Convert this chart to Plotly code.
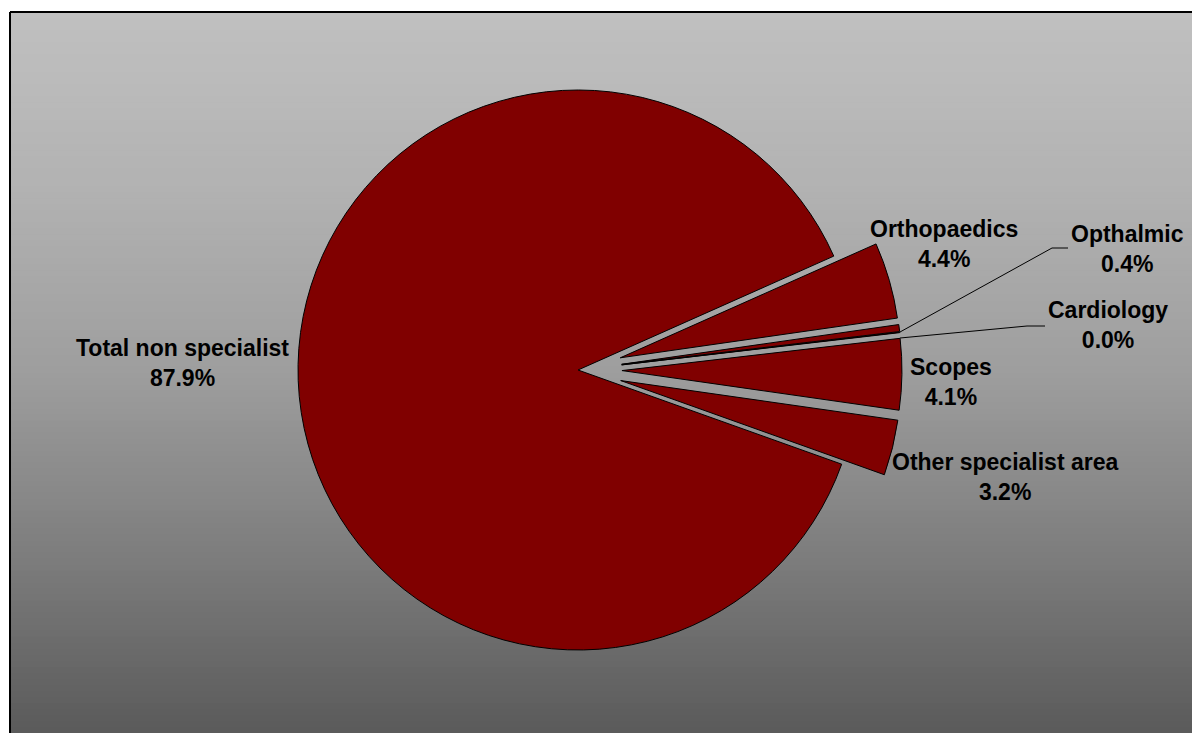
import plotly.graph_objects as go
import numpy as np

W, H = 1192, 733

# ---- data ----
labels = ["Orthopaedics", "Opthalmic", "Cardiology", "Scopes",
          "Other specialist area", "Total non specialist"]
values = [4.4, 0.4, 0.03, 4.1, 3.2, 87.9]
pct_text = ["4.4%", "0.4%", "0.0%", "4.1%", "3.2%", "87.9%"]
pulls = [0.157, 0.157, 0.157, 0.157, 0.157, 0.0]

# label centres (pixels) – layout only
label_pos = {
    "Orthopaedics": (944, 244),
    "Opthalmic": (1127, 249),
    "Cardiology": (1108, 325),
    "Scopes": (951, 382),
    "Other specialist area": (1005, 477),
    "Total non specialist": (182, 363),
}

def px(x):
    return x / W

def py(y):
    return 1 - y / H

# pie geometry
cx, cy, R = 578, 370, 280
half = R * (1 + max(pulls))

fig = go.Figure()
fig.add_trace(go.Pie(
    labels=labels, values=values, pull=pulls, sort=False,
    direction="clockwise", rotation=66,
    marker=dict(colors=["#800000"] * len(labels),
                line=dict(color="black", width=1)),
    textinfo="none", hoverinfo="label+percent", showlegend=False,
    domain=dict(x=[px(cx - half), px(cx + half)],
                y=[py(cy + half), py(cy - half)]),
))

shapes = []
# gradient background (overlapping bands to avoid seams)
stops_y = [12, 190, 370, 550, 733]
stops_c = [192, 178, 158, 126, 90]
n = 120
edges = np.linspace(12, H, n + 1)
for i in range(n):
    ym = (edges[i] + edges[i + 1]) / 2
    g = int(round(np.interp(ym, stops_y, stops_c)))
    y_bot = min(edges[i + 1] + 2, H)
    shapes.append(dict(type="rect", xref="paper", yref="paper", layer="below",
                       x0=px(10), x1=1.0, y0=py(y_bot), y1=py(edges[i]),
                       fillcolor=f"rgb({g},{g},{g})", line=dict(width=0)))
# border (left and top only; the rest runs off the picture)
shapes.append(dict(type="line", xref="paper", yref="paper", x0=px(10), x1=px(10),
                   y0=0, y1=py(12), line=dict(color="black", width=2)))
shapes.append(dict(type="line", xref="paper", yref="paper", x0=px(10), x1=1.0,
                   y0=py(12), y1=py(12), line=dict(color="black", width=2)))
# leader lines
for pts in ([(900, 332), (1052, 248), (1068, 248)],
            [(900, 338), (1027, 326), (1045, 326)]):
    path = "M " + " L ".join(f"{px(x)},{py(y)}" for x, y in pts)
    shapes.append(dict(type="path", xref="paper", yref="paper", path=path,
                       line=dict(color="black", width=1)))

annotations = []
for lab, t in zip(labels, pct_text):
    x, y = label_pos[lab]
    annotations.append(dict(
        x=px(x), y=py(y), xref="paper", yref="paper", showarrow=False,
        text=f"<b>{lab}<br>{t}</b>", align="center",
        xanchor="center", yanchor="middle",
        font=dict(family="Arial, Liberation Sans, sans-serif", size=23, color="black"),
    ))

fig.update_layout(
    width=W, height=H, margin=dict(l=0, r=0, t=0, b=0),
    paper_bgcolor="white", plot_bgcolor="white",
    shapes=shapes, annotations=annotations,
)

fig.write_html("out.html", config={"displayModeBar": False},
               post_script="document.body.style.margin='0';document.body.style.overflow='hidden';")
